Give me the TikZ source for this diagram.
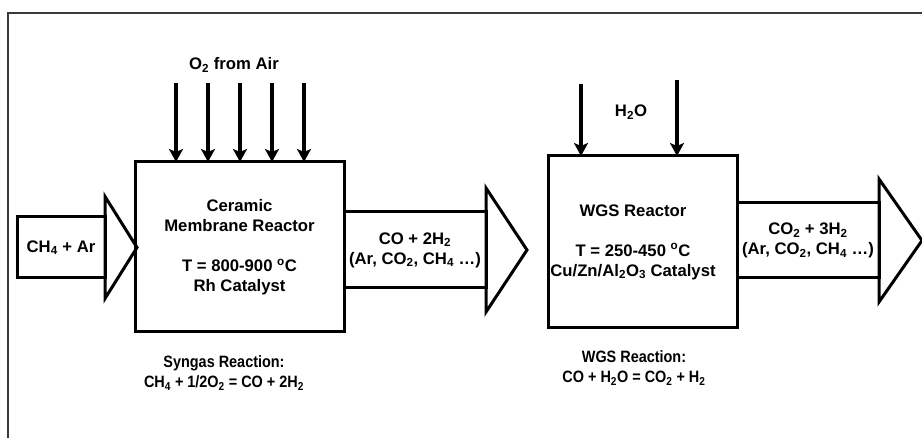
\documentclass[tikz,border=0pt]{standalone}
\usepackage{fontspec}
\setmainfont{Liberation Sans}
\newfontfamily\rxnfont[FakeStretch=0.88]{Liberation Sans}
\usepackage{xcolor}
\usetikzlibrary{arrows.meta,positioning,calc}
\definecolor{FrameGray}{HTML}{3A3A3A}

\begin{document}
\begin{tikzpicture}[x=1pt, y=-1pt,
    reactor/.style={draw, line width=3pt, outer sep=0pt, align=center,
      minimum width=209pt, minimum height=170pt},
    stream/.style={draw, line width=3pt, outer sep=0pt, inner sep=0pt, align=center},
    head/.style={draw, line width=3pt, line join=miter},
    txt/.style={font=\fontsize{16.7}{20}\selectfont\bfseries, align=center},
    rxn/.style={font=\rxnfont\fontsize{16.4}{20}\selectfont\bfseries, align=center},
    feed/.style={line width=4pt, -{Stealth[length=13pt, width=14pt, inset=3pt]}}
  ]
    \useasboundingbox (0,0) rectangle (922,438);
    \draw[line width=1.5pt, FrameGray] (8,438) -- (8,13) -- (922,13);

    % reactors
    \node[reactor, txt] (cmr) at (239.5,247)
      {Ceramic\\Membrane Reactor\\[20pt]T = 800-900 \textsuperscript{o}C\\Rh Catalyst};
    \node[reactor, minimum width=189pt, minimum height=172pt] (wgs) at (642.5,242) {};
    \node[txt] (wgstxt) at (633,242)
      {WGS Reactor\\[20pt]T = 250-450 \textsuperscript{o}C\\Cu/Zn/Al\textsubscript{2}O\textsubscript{3} Catalyst};

    % streams
    \node[stream, txt, minimum width=88pt, minimum height=61pt] (feedin) at (61,247.5)
      {CH\textsubscript{4} + Ar};
    \draw[head] ($(feedin.east)+(0,-51)$) -- ($(feedin.east)+(32,0)$) -- ($(feedin.east)+(0,51)$) -- cycle;
    \node[stream, txt, minimum width=142pt, minimum height=76pt, anchor=west] (syngas) at (cmr.east |- 0,250)
      {CO + 2H\textsubscript{2}\\(Ar, CO\textsubscript{2}, CH\textsubscript{4} …)};
    \draw[head] ($(syngas.east)+(0,-62)$) -- ($(syngas.east)+(41,0)$) -- ($(syngas.east)+(0,62)$) -- cycle;
    \node[stream, txt, minimum width=142pt, minimum height=75pt, anchor=west] (product) at (wgs.east |- 0,240.5)
      {CO\textsubscript{2} + 3H\textsubscript{2}\\(Ar, CO\textsubscript{2}, CH\textsubscript{4} …)};
    \draw[head] ($(product.east)+(0,-61.5)$) -- ($(product.east)+(43,0)$) -- ($(product.east)+(0,61.5)$) -- cycle;

    % feeds from above
    \foreach \k/\x in {1/176,2/208,3/240,4/272,5/304} {
      \coordinate (air\k) at (\x,83);
      \draw[feed] (air\k) -- (air\k |- cmr.north);
    }
    \coordinate (steam1) at (581,84);
    \coordinate (steam2) at (677,80);
    \draw[feed] (steam1) -- (steam1 |- wgs.north);
    \draw[feed] (steam2) -- (steam2 |- wgs.north);

    % labels
    \node[txt] (airlbl) at (234,65) {O\textsubscript{2} from Air};
    \node[txt] (h2olbl) at (631,112) {H\textsubscript{2}O};
    \node[rxn] (synrxn) at (224,373)
      {Syngas Reaction:\\CH\textsubscript{4} + 1/2O\textsubscript{2} = CO + 2H\textsubscript{2}};
    \node[rxn] (wgsrxn) at (634,368)
      {WGS Reaction:\\CO + H\textsubscript{2}O = CO\textsubscript{2} + H\textsubscript{2}};
  \end{tikzpicture}
\end{document}
